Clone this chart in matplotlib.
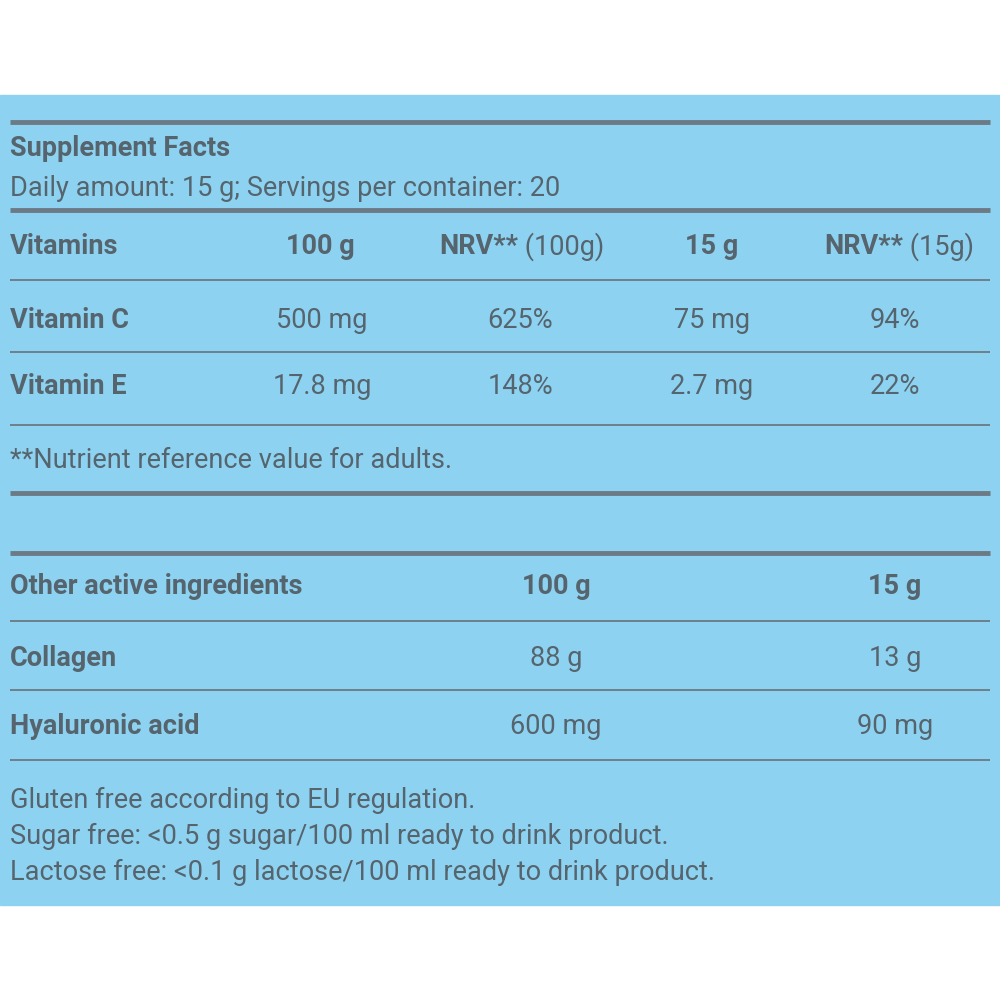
import matplotlib
matplotlib.use("Agg")
import matplotlib.pyplot as plt
from matplotlib.patches import Rectangle

title = "Supplement Facts"
subtitle = "Daily amount: 15 g; Servings per container: 20"
vit_header = ["Vitamins", "100 g", "NRV**", "(100g)", "15 g", "NRV**", "(15g)"]
vit_names = ["Vitamin C", "Vitamin E"]
vit_100 = ["500 mg", "17.8 mg"]
vit_nrv100 = ["625%", "148%"]
vit_15 = ["75 mg", "2.7 mg"]
vit_nrv15 = ["94%", "22%"]
footnote = "**Nutrient reference value for adults."
oth_header = ["Other active ingredients", "100 g", "15 g"]
oth_names = ["Collagen", "Hyaluronic acid"]
oth_100 = ["88 g", "600 mg"]
oth_15 = ["13 g", "90 mg"]
footer = ["Gluten free according to EU regulation.",
          "Sugar free: <0.5 g sugar/100 ml ready to drink product.",
          "Lactose free: <0.1 g lactose/100 ml ready to drink product."]

fam = ["Roboto", "DejaVu Sans"]
tc = "#56646e"
lc = "#6b7a84"
bg = "#8dd3f1"
fs = 19.5

fig = plt.figure(figsize=(10, 10), dpi=100)
ax = fig.add_axes([0, 0, 1, 1])
ax.set_xlim(0, 1000); ax.set_ylim(1000, 0); ax.axis("off")
ax.add_patch(Rectangle((0, 95), 1000, 810, color=bg, zorder=0))

for y, lw in [(122, 3.5), (210, 3.5), (280, 1.3), (352, 1.3), (425, 1.3),
              (493, 3.5), (553, 3.5), (621, 1.3), (690, 1.3), (760, 1.3)]:
    ax.plot([10, 990], [y, y], color=lc, lw=lw, solid_capstyle="butt")

def t(x, y, s, bold=False, ha="left"):
    ax.text(x, y, s, fontsize=fs, family=fam, color=tc, ha=ha, va="center",
            fontweight="bold" if bold else "normal")

t(10, 148, title, True)
t(10, 188, subtitle)
yh = 247
t(10, yh, vit_header[0], True)
t(320, yh, vit_header[1], True, "center")
t(518, yh, vit_header[2], True, "right"); t(518, yh, " " + vit_header[3])
t(712, yh, vit_header[4], True, "center")
t(903, yh, vit_header[5], True, "right"); t(903, yh, " " + vit_header[6])
for i, y in enumerate([320, 387]):
    t(10, y, vit_names[i], True)
    t(322, y, vit_100[i], ha="center")
    t(520, y, vit_nrv100[i], ha="center")
    t(712, y, vit_15[i], ha="center")
    t(895, y, vit_nrv15[i], ha="center")
t(10, 460, footnote)
t(10, 586, oth_header[0], True)
t(556, 586, oth_header[1], True, "center")
t(895, 586, oth_header[2], True, "center")
for i, y in enumerate([658, 727]):
    t(10, y, oth_names[i], True)
    t(556, y, oth_100[i], ha="center")
    t(895, y, oth_15[i], ha="center")
for i, y in enumerate([800, 836, 872]):
    t(10, y, footer[i])

fig.savefig("out.png", dpi=100, facecolor="white")
